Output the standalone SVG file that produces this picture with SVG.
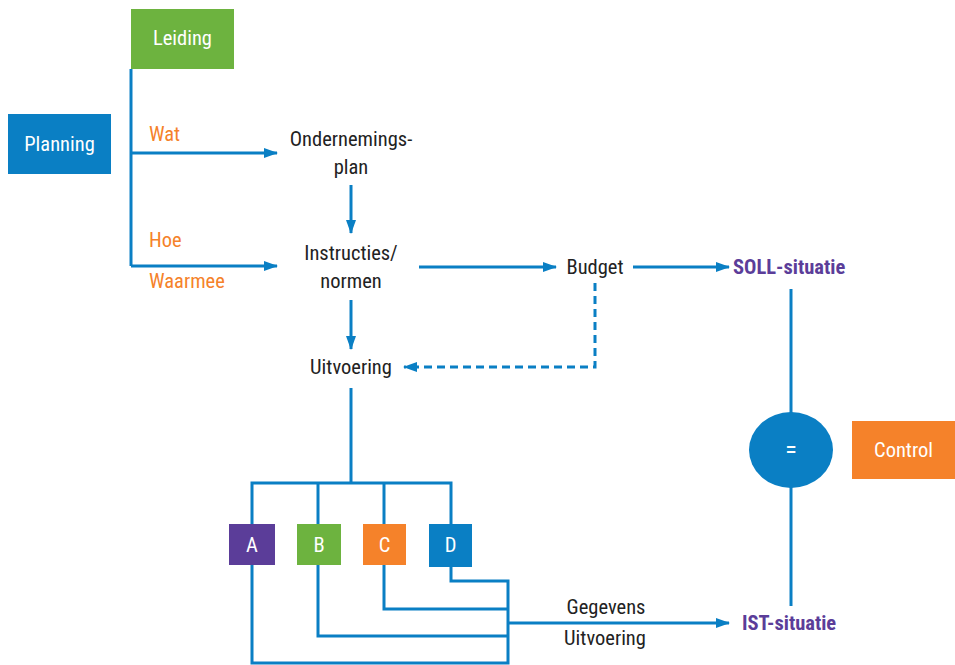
<svg xmlns="http://www.w3.org/2000/svg" width="955" height="665" viewBox="0 0 955 665">
<defs>
<marker id="ah2" markerWidth="14" markerHeight="10" refX="13" refY="5" orient="auto" markerUnits="userSpaceOnUse"><path d="M0,0 L14,5 L0,10 z" fill="#0a7fc4"/></marker>
<style>
text{font-family:"Liberation Sans Narrow","Roboto Condensed","Liberation Sans",sans-serif;font-size:20.5px}
.dk{fill:#222}
.or{fill:#f5822a}
.wh{fill:#fff}
.pu{fill:#5b3d99;font-weight:bold}
.ln{fill:none;stroke:#0a7fc4;stroke-width:3}
.ar{fill:none;stroke:#0a7fc4;stroke-width:3;marker-end:url(#ah2)}
.da{fill:none;stroke:#0a7fc4;stroke-width:3;stroke-dasharray:8,5;marker-end:url(#ah2)}
.m{text-anchor:middle}
</style>
</defs>
<rect width="955" height="665" fill="#fff"/>
<g id="connectors">
<polyline class="ln" points="131,69 131,266"/>
<line class="ar" x1="131" y1="153" x2="277" y2="153"/>
<line class="ar" x1="131" y1="266" x2="277" y2="266"/>
<line class="ar" x1="351" y1="185" x2="351" y2="233"/>
<line class="ar" x1="419" y1="267" x2="556" y2="267"/>
<line class="ar" x1="633" y1="267" x2="729" y2="267"/>
<line class="ar" x1="351" y1="300" x2="351" y2="349"/>
<polyline class="da" points="595,283 595,367 404,367"/>
<line class="ln" x1="351" y1="388" x2="351" y2="483"/>
<polyline class="ln" points="252,524 252,483 451,483 451,524"/>
<line class="ln" x1="318" y1="483" x2="318" y2="524"/>
<line class="ln" x1="384" y1="483" x2="384" y2="524"/>
<polyline class="ln" points="252,565 252,663 508,663 508,581 451,581 451,567"/>
<polyline class="ln" points="318,565 318,636 508,636"/>
<polyline class="ln" points="384,565 384,609 508,609"/>
<line class="ar" x1="508" y1="623" x2="729" y2="623"/>
<line class="ln" x1="791" y1="289" x2="791" y2="414"/>
<line class="ln" x1="791" y1="486" x2="791" y2="606"/>
</g>
<g id="labels">
<text class="or" x="149" y="141">Wat</text>
<text class="or" x="149" y="247">Hoe</text>
<text class="or" x="149" y="288">Waarmee</text>
<text class="dk m" x="606" y="614">Gegevens</text>
<text class="dk m" x="605" y="645">Uitvoering</text>
</g>
<g id="leiding"><rect x="131" y="9" width="103" height="60" fill="#6db33f"/><text class="wh m" x="182.5" y="45">Leiding</text></g>
<g id="planning"><rect x="8" y="114" width="103" height="60" fill="#0a7fc4"/><text class="wh m" x="59.5" y="151">Planning</text></g>
<g id="ondernemingsplan"><text class="dk m" x="351" y="146">Ondernemings-</text><text class="dk m" x="351" y="174">plan</text></g>
<g id="instructies"><text class="dk m" x="351" y="260">Instructies/</text><text class="dk m" x="351" y="288">normen</text></g>
<g id="budget"><text class="dk m" x="595" y="274">Budget</text></g>
<g id="soll"><text class="pu" x="733" y="274">SOLL-situatie</text></g>
<g id="uitvoering"><text class="dk m" x="351" y="374">Uitvoering</text></g>
<g id="a"><rect x="229" y="524" width="46" height="41" fill="#5b3d99"/><text class="wh m" x="252" y="552">A</text></g>
<g id="b"><rect x="297" y="524" width="44" height="41" fill="#6db33f"/><text class="wh m" x="319" y="552">B</text></g>
<g id="c"><rect x="363" y="524" width="43" height="41" fill="#f5822a"/><text class="wh m" x="384.5" y="552">C</text></g>
<g id="d"><rect x="429" y="524" width="43" height="43" fill="#0a7fc4"/><text class="wh m" x="450.5" y="552">D</text></g>
<g id="ist"><text class="pu" x="742" y="630">IST-situatie</text></g>
<g id="equal"><ellipse cx="791" cy="450" rx="42" ry="38" fill="#0a7fc4"/><text class="wh m" x="791" y="458" style="font-size:24px">=</text></g>
<g id="control"><rect x="852" y="421" width="103" height="58" fill="#f5822a"/><text class="wh m" x="903.5" y="457">Control</text></g>
</svg>
